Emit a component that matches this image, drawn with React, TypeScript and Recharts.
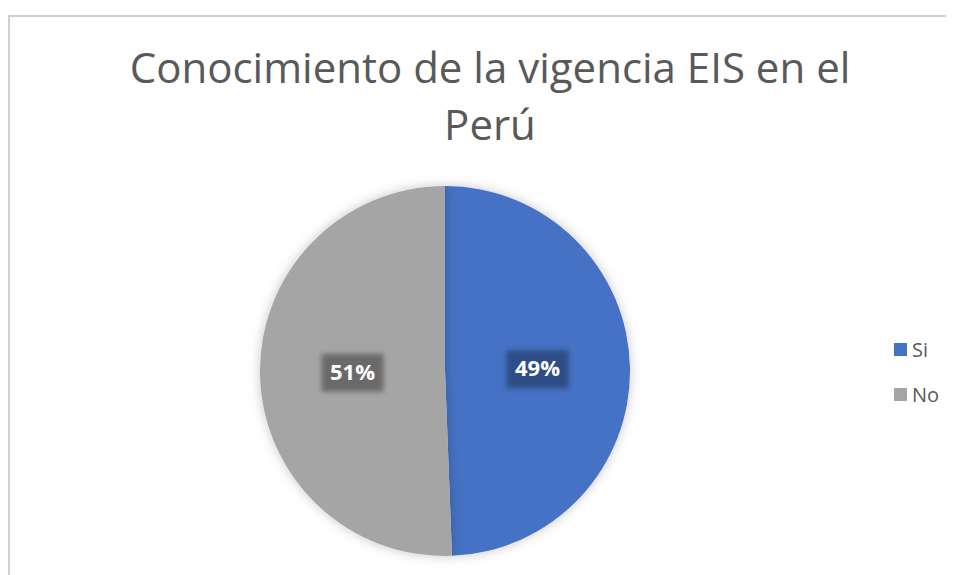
import React from "react";
import { PieChart, Pie, Cell, Legend } from "recharts";

const categories = ["Si", "No"];
const shares = [49.4, 50.6];
const labels = ["49%", "51%"];
const COLORS = ["#4472C4", "#A5A5A5"];
const BOX_COLORS = ["#2d4d86", "#6b6b6b"];

const data = categories.map((name, i) => ({ name, value: shares[i], label: labels[i] }));

const RAD = Math.PI / 180;

function SliceLabel(props: any) {
  const { cx, cy, midAngle, outerRadius, index } = props;
  const r = outerRadius * 0.5;
  const x = cx + r * Math.cos(-midAngle * RAD);
  const y = cy + r * Math.sin(-midAngle * RAD);
  return (
    <g>
      <rect
        x={x - 31}
        y={y - 19}
        width={62}
        height={38}
        fill={BOX_COLORS[index]}
        filter="url(#boxBlur)"
      />
      <text
        x={x}
        y={y + 1}
        fill="#ffffff"
        textAnchor="middle"
        dominantBaseline="middle"
        fontFamily="'Open Sans', sans-serif"
        fontWeight={700}
        fontSize={22}
      >
        {labels[index]}
      </text>
    </g>
  );
}

function LegendBox() {
  return (
    <div style={{ fontFamily: "'Open Sans', sans-serif", fontSize: 20, color: "#595959" }}>
      {categories.map((c, i) => (
        <div key={c} style={{ display: "flex", alignItems: "center", height: 45 }}>
          <span
            style={{
              display: "inline-block",
              width: 13,
              height: 13,
              background: COLORS[i],
              marginRight: 5,
            }}
          />
          <span>{c}</span>
        </div>
      ))}
    </div>
  );
}

export default function App() {
  return (
    <div style={{ position: "relative", width: 946, height: 567, overflow: "hidden", background: "#fff" }}>
      <div
        style={{
          position: "absolute",
          left: 0,
          top: 7,
          width: 964,
          height: 620,
          border: "2px solid #d0d0d0",
          boxSizing: "border-box",
        }}
      />
      <div
        style={{
          position: "absolute",
          left: 0,
          top: 30,
          width: 964,
          textAlign: "center",
          fontFamily: "'Open Sans', sans-serif",
          fontSize: 42,
          lineHeight: "57px",
          color: "#595959",
        }}
      >
        Conocimiento de la vigencia EIS en el
        <br />
        Perú
      </div>
      <div style={{ position: "absolute", left: 0, top: 0 }}>
        <PieChart width={946} height={567} margin={{ top: 0, right: 0, bottom: 0, left: 0 }}>
          <defs>
            <filter id="pieShadow" x="-20%" y="-20%" width="140%" height="140%">
              <feDropShadow dx="0" dy="0" stdDeviation="6" floodColor="#000" floodOpacity="0.22" />
            </filter>
            <filter id="boxBlur" x="-30%" y="-30%" width="160%" height="160%">
              <feGaussianBlur stdDeviation="2.5" />
            </filter>
          </defs>
          <Pie
            data={data}
            dataKey="value"
            nameKey="name"
            cx={437}
            cy={363}
            outerRadius={185}
            startAngle={90}
            endAngle={-270}
            stroke="none"
            isAnimationActive={false}
            labelLine={false}
            label={SliceLabel}
            style={{ filter: "url(#pieShadow)" }}
          >
            {data.map((_, i) => (
              <Cell key={i} fill={COLORS[i]} />
            ))}
          </Pie>
          <Legend
            layout="vertical"
            align="right"
            verticalAlign="top"
            content={() => <LegendBox />}
            wrapperStyle={{ left: 886, top: 319, width: 60 }}
          />
        </PieChart>
      </div>
    </div>
  );
}
